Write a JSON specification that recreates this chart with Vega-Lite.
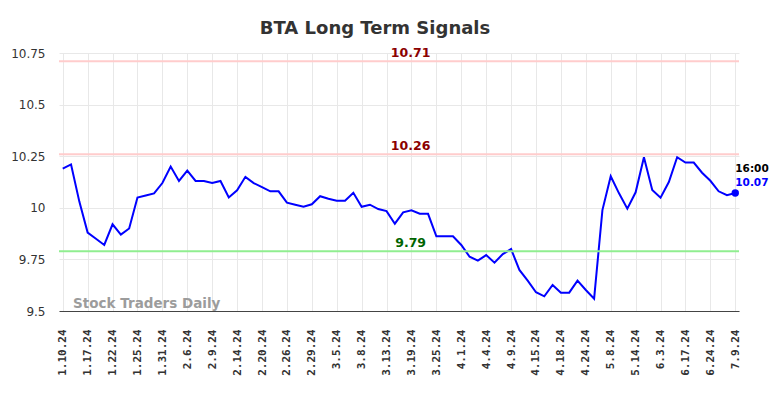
{
  "$schema": "https://vega.github.io/schema/vega-lite/v6.json",
  "width": 680,
  "height": 258,
  "autosize": "none",
  "padding": {"left": 59, "top": 53, "right": 45, "bottom": 87},
  "background": "white",
  "title": {
    "text": "BTA Long Term Signals",
    "font": "DejaVu Sans",
    "fontSize": 18,
    "fontWeight": "bold",
    "color": "#333333",
    "anchor": "middle",
    "dx": -24,
    "offset": 9
  },
  "config": {
    "view": {"stroke": null},
    "axis": {"gridColor": "#e8e8e8", "gridWidth": 1, "title": null, "ticks": false, "grid": true},
    "axisX": {
      "labelAngle": -90,
      "labelAlign": "right",
      "labelBaseline": "middle",
      "labelFont": "DejaVu Sans Mono",
      "labelFontWeight": "bold",
      "labelFontSize": 11,
      "labelColor": "#333333",
      "labelPadding": 18,
      "labelOverlap": false,
      "labelFlush": false,
      "domain": true,
      "domainColor": "#444444",
      "domainWidth": 1.2
    },
    "axisY": {
      "labelFont": "DejaVu Sans",
      "labelFontSize": 12,
      "labelColor": "#333333",
      "labelPadding": 14,
      "domain": false
    }
  },
  "datasets": {
    "prices": [
      {"i":0,"price":10.19},{"i":1,"price":10.21},{"i":2,"price":10.03},{"i":3,"price":9.88},
      {"i":4,"price":9.85},{"i":5,"price":9.82},{"i":6,"price":9.92},{"i":7,"price":9.87},
      {"i":8,"price":9.90},{"i":9,"price":10.05},{"i":10,"price":10.06},{"i":11,"price":10.07},
      {"i":12,"price":10.12},{"i":13,"price":10.20},{"i":14,"price":10.13},{"i":15,"price":10.18},
      {"i":16,"price":10.13},{"i":17,"price":10.13},{"i":18,"price":10.12},{"i":19,"price":10.13},
      {"i":20,"price":10.05},{"i":21,"price":10.085},{"i":22,"price":10.15},{"i":23,"price":10.12},
      {"i":24,"price":10.10},{"i":25,"price":10.08},{"i":26,"price":10.08},{"i":27,"price":10.025},
      {"i":28,"price":10.015},{"i":29,"price":10.005},{"i":30,"price":10.017},{"i":31,"price":10.056},
      {"i":32,"price":10.044},{"i":33,"price":10.034},{"i":34,"price":10.034},{"i":35,"price":10.073},
      {"i":36,"price":10.005},{"i":37,"price":10.015},{"i":38,"price":9.994},{"i":39,"price":9.984},
      {"i":40,"price":9.923},{"i":41,"price":9.978},{"i":42,"price":9.988},{"i":43,"price":9.971},
      {"i":44,"price":9.971},{"i":45,"price":9.862},{"i":46,"price":9.862},{"i":47,"price":9.862},
      {"i":48,"price":9.820},{"i":49,"price":9.763},{"i":50,"price":9.744},{"i":51,"price":9.771},
      {"i":52,"price":9.734},{"i":53,"price":9.776},{"i":54,"price":9.800},{"i":55,"price":9.699},
      {"i":56,"price":9.647},{"i":57,"price":9.591},{"i":58,"price":9.571},{"i":59,"price":9.626},
      {"i":60,"price":9.589},{"i":61,"price":9.589},{"i":62,"price":9.647},{"i":63,"price":9.602},
      {"i":64,"price":9.560},{"i":65,"price":9.989},{"i":66,"price":10.153},{"i":67,"price":10.070},
      {"i":68,"price":9.996},{"i":69,"price":10.075},{"i":70,"price":10.245},{"i":71,"price":10.086},
      {"i":72,"price":10.049},{"i":73,"price":10.125},{"i":74,"price":10.245},{"i":75,"price":10.219},
      {"i":76,"price":10.219},{"i":77,"price":10.170},{"i":78,"price":10.131},{"i":79,"price":10.080},
      {"i":80,"price":10.061},{"i":81,"price":10.072}
    ],
    "levels": [
      {"v": 10.71, "kind": "resistance"},
      {"v": 10.26, "kind": "resistance"},
      {"v": 9.79, "kind": "support"}
    ]
  },
  "layer": [
    {
      "data": {"name": "prices"},
      "mark": {"type": "line", "color": "#0000ff", "strokeWidth": 2},
      "encoding": {
        "x": {
          "field": "i", "type": "quantitative",
          "scale": {"domain": [-0.45, 81.45], "nice": false, "zero": false},
          "axis": {"values": [0,3,6,9,12,15,18,21,24,27,30,33,36,39,42,45,48,51,54,57,60,63,66,69,72,75,78,81], "labelExpr": "['1.10.24','1.17.24','1.22.24','1.25.24','1.31.24','2.6.24','2.9.24','2.14.24','2.20.24','2.26.24','2.29.24','3.5.24','3.8.24','3.13.24','3.19.24','3.25.24','4.1.24','4.4.24','4.9.24','4.15.24','4.18.24','4.24.24','5.8.24','5.14.24','6.3.24','6.17.24','6.24.24','7.9.24'][round(datum.value/3)]"}
        },
        "y": {
          "field": "price", "type": "quantitative",
          "scale": {"domain": [9.5, 10.75], "nice": false, "zero": false},
          "axis": {"values": [9.5, 9.75, 10, 10.25, 10.5, 10.75], "format": ".4~g"}
        }
      }
    },
    {
      "data": {"name": "levels"},
      "mark": {"type": "rule", "strokeWidth": 2},
      "encoding": {
        "y": {"field": "v", "type": "quantitative", "axis": {"values": [9.5, 9.75, 10, 10.25, 10.5, 10.75], "format": ".4~g"}},
        "color": {
          "condition": {"test": "datum.kind == 'support'", "value": "#90ee90"},
          "value": "#ffcccc"
        }
      }
    },
    {
      "data": {"name": "levels"},
      "mark": {"type": "text", "font": "DejaVu Sans", "fontWeight": "bold", "fontSize": 12.5, "align": "center", "baseline": "alphabetic", "dy": -4},
      "encoding": {
        "x": {"datum": 41.9, "type": "quantitative", "axis": {"values": [0,3,6,9,12,15,18,21,24,27,30,33,36,39,42,45,48,51,54,57,60,63,66,69,72,75,78,81], "labelExpr": "['1.10.24','1.17.24','1.22.24','1.25.24','1.31.24','2.6.24','2.9.24','2.14.24','2.20.24','2.26.24','2.29.24','3.5.24','3.8.24','3.13.24','3.19.24','3.25.24','4.1.24','4.4.24','4.9.24','4.15.24','4.18.24','4.24.24','5.8.24','5.14.24','6.3.24','6.17.24','6.24.24','7.9.24'][round(datum.value/3)]"}},
        "y": {"field": "v", "type": "quantitative", "axis": {"values": [9.5, 9.75, 10, 10.25, 10.5, 10.75], "format": ".4~g"}},
        "text": {"field": "v", "type": "quantitative", "format": ".2f"},
        "color": {
          "condition": {"test": "datum.kind == 'support'", "value": "#006400"},
          "value": "#8b0000"
        }
      }
    },
    {
      "data": {"name": "prices"},
      "transform": [{"filter": "datum.i == 81"}],
      "mark": {"type": "point", "filled": true, "color": "#0000ff", "opacity": 1, "size": 55},
      "encoding": {
        "x": {"field": "i", "type": "quantitative", "axis": {"values": [0,3,6,9,12,15,18,21,24,27,30,33,36,39,42,45,48,51,54,57,60,63,66,69,72,75,78,81], "labelExpr": "['1.10.24','1.17.24','1.22.24','1.25.24','1.31.24','2.6.24','2.9.24','2.14.24','2.20.24','2.26.24','2.29.24','3.5.24','3.8.24','3.13.24','3.19.24','3.25.24','4.1.24','4.4.24','4.9.24','4.15.24','4.18.24','4.24.24','5.8.24','5.14.24','6.3.24','6.17.24','6.24.24','7.9.24'][round(datum.value/3)]"}},
        "y": {"field": "price", "type": "quantitative", "axis": {"values": [9.5, 9.75, 10, 10.25, 10.5, 10.75], "format": ".4~g"}}
      }
    },
    {
      "data": {"name": "prices"},
      "transform": [{"filter": "datum.i == 81"}],
      "mark": {"type": "text", "font": "DejaVu Sans", "fontWeight": "bold", "fontSize": 10.5, "align": "left", "baseline": "alphabetic", "dy": -7, "color": "#0000ff"},
      "encoding": {
        "x": {"field": "i", "type": "quantitative", "axis": {"values": [0,3,6,9,12,15,18,21,24,27,30,33,36,39,42,45,48,51,54,57,60,63,66,69,72,75,78,81], "labelExpr": "['1.10.24','1.17.24','1.22.24','1.25.24','1.31.24','2.6.24','2.9.24','2.14.24','2.20.24','2.26.24','2.29.24','3.5.24','3.8.24','3.13.24','3.19.24','3.25.24','4.1.24','4.4.24','4.9.24','4.15.24','4.18.24','4.24.24','5.8.24','5.14.24','6.3.24','6.17.24','6.24.24','7.9.24'][round(datum.value/3)]"}},
        "y": {"field": "price", "type": "quantitative", "axis": {"values": [9.5, 9.75, 10, 10.25, 10.5, 10.75], "format": ".4~g"}},
        "text": {"field": "price", "type": "quantitative", "format": ".2f"}
      }
    },
    {
      "data": {"name": "prices"},
      "transform": [{"filter": "datum.i == 81"}],
      "mark": {"type": "text", "font": "DejaVu Sans", "fontWeight": "bold", "fontSize": 10.5, "align": "left", "baseline": "alphabetic", "dy": -21, "color": "#000000"},
      "encoding": {
        "x": {"field": "i", "type": "quantitative", "axis": {"values": [0,3,6,9,12,15,18,21,24,27,30,33,36,39,42,45,48,51,54,57,60,63,66,69,72,75,78,81], "labelExpr": "['1.10.24','1.17.24','1.22.24','1.25.24','1.31.24','2.6.24','2.9.24','2.14.24','2.20.24','2.26.24','2.29.24','3.5.24','3.8.24','3.13.24','3.19.24','3.25.24','4.1.24','4.4.24','4.9.24','4.15.24','4.18.24','4.24.24','5.8.24','5.14.24','6.3.24','6.17.24','6.24.24','7.9.24'][round(datum.value/3)]"}},
        "y": {"field": "price", "type": "quantitative", "axis": {"values": [9.5, 9.75, 10, 10.25, 10.5, 10.75], "format": ".4~g"}},
        "text": {"value": "16:00"}
      }
    },
    {
      "data": {"values": [{"label": "Stock Traders Daily"}]},
      "mark": {"type": "text", "font": "DejaVu Sans", "fontWeight": "bold", "fontSize": 13.5, "align": "left", "baseline": "alphabetic", "dy": -3, "color": "#9c9c9c"},
      "encoding": {
        "x": {"datum": 1.25, "type": "quantitative", "axis": {"values": [0,3,6,9,12,15,18,21,24,27,30,33,36,39,42,45,48,51,54,57,60,63,66,69,72,75,78,81], "labelExpr": "['1.10.24','1.17.24','1.22.24','1.25.24','1.31.24','2.6.24','2.9.24','2.14.24','2.20.24','2.26.24','2.29.24','3.5.24','3.8.24','3.13.24','3.19.24','3.25.24','4.1.24','4.4.24','4.9.24','4.15.24','4.18.24','4.24.24','5.8.24','5.14.24','6.3.24','6.17.24','6.24.24','7.9.24'][round(datum.value/3)]"}},
        "y": {"datum": 9.5, "type": "quantitative", "axis": {"values": [9.5, 9.75, 10, 10.25, 10.5, 10.75], "format": ".4~g"}},
        "text": {"field": "label", "type": "nominal"}
      }
    }
  ]
}
